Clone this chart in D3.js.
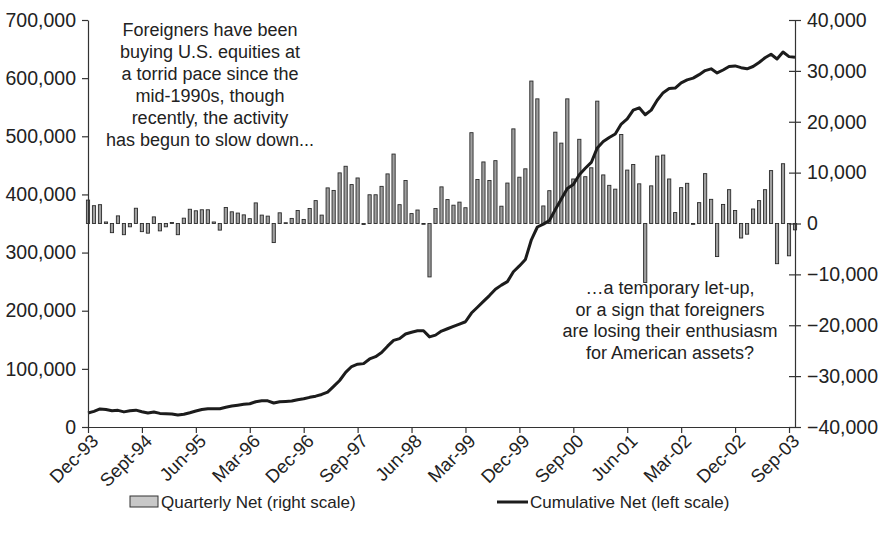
<!DOCTYPE html>
<html>
<head>
<meta charset="utf-8">
<script src="https://cdn.jsdelivr.net/npm/d3@7"></script>
<style>
    body { margin: 0; background: #fff; }
    text { font-family: "Liberation Sans", Arial, sans-serif; fill: #222; }
</style>
</head>
<body>
<div id="chart"></div>
<script>

// monthly data, Dec-93 .. Oct-03 ($ millions)
const firstMonth = new Date(1993, 11, 1);

const quarterlyNet = [
    4600, 3500, 3700, 300, -1800, 1500, -2200, -650, 3000, -1600,
    -1900, 1300, -1450, -650, 200, -2200, 1050, 2800, 2500, 2700,
    2700, 300, -1300, 3150, 2300, 2050, 1700, 950, 4050, 1650,
    1450, -3750, 2100, 150, 1000, 2550, 800, 2950, 4500, 1650,
    7000, 6500, 9950, 11250, 7650, 8950, -200, 5650, 5650, 7300,
    9750, 13650, 3700, 8450, 1950, 2650, 0, -10500, 2950, 7200,
    4700, 3600, 4200, 3100, 17850, 8650, 12100, 8450, 12350, 3400,
    7950, 18600, 9100, 10750, 28000, 24500, 3450, 6450, 17950, 15800,
    24500, 8750, 16550, 9200, 10950, 24050, 9550, 7500, 6750, 17500,
    10500, 11600, 7800, -11600, 7400, 13250, 13450, 8750, 2150, 7050,
    7900, -150, 4100, 9800, 4750, -6500, 3750, 6650, 2550, -2850,
    -2100, 2850, 4500, 6650, 10400, -7900, 11750, -6350, -1250
];

const cumulativeNet = [
    24000, 26800, 31000, 30000, 28000, 28600, 26000, 28000, 29000, 26300,
    24000, 25800, 23400, 22900, 22400, 20600, 22000, 24600, 27500, 30000,
    31500, 31500, 31500, 34000, 36000, 37500, 39000, 40000, 43500, 45000,
    45000, 41300, 43500, 44000, 44700, 47000, 48500, 51000, 53000, 56000,
    60000, 70000, 80000, 94000, 104000, 108000, 109000, 117000, 121000, 128000,
    139000, 149000, 152000, 160000, 163000, 165600, 165600, 155000, 158000, 165000,
    169000, 173000, 177000, 181000, 196000, 206000, 216000, 226000, 237000, 244000,
    250000, 267000, 277000, 288000, 322000, 344000, 349000, 355000, 374000, 392000,
    410000, 417000, 434000, 445000, 455000, 480000, 491000, 498000, 504000, 521000,
    530000, 545000, 549000, 537000, 545000, 562000, 575000, 582000, 583000, 592000,
    597000, 600000, 606000, 613000, 616000, 609000, 614000, 620000, 621000, 618000,
    616000, 620000, 627000, 635000, 641000, 633000, 645000, 637000, 636000
];

const tickLabels = ["Dec-93", "Sept-94", "Jun-95", "Mar-96", "Dec-96", "Sep-97", "Jun-98",
    "Mar-99", "Dec-99", "Sep-00", "Jun-01", "Mar-02", "Dec-02", "Sep-03"];
const tickEvery = 9;

const leftTicks = [0, 100000, 200000, 300000, 400000, 500000, 600000, 700000];
const rightTicks = [-40000, -30000, -20000, -10000, 0, 10000, 20000, 30000, 40000];

const noteTop = ["Foreigners have been", "buying U.S. equities at", "a torrid pace since the",
    "mid-1990s, though", "recently, the activity", "has begun to slow down..."];
const noteBottom = ["\u2026a temporary let-up,", "or a sign that foreigners",
    "are losing their enthusiasm", "for American assets?"];

const legendItems = ["Quarterly Net (right scale)", "Cumulative Net (left scale)"];


class DualAxisVis {

    constructor(parentElement) {
        this.parentElement = parentElement;
        this.months = d3.timeMonth.range(firstMonth, d3.timeMonth.offset(firstMonth, quarterlyNet.length));
        this.initVis();
    }

    initVis() {
        let vis = this;

        vis.width = 881;
        vis.height = 547;
        vis.plot = { left: 88, right: 795, top: 20, bottom: 427 };

        vis.svg = d3.select("#" + vis.parentElement).append("svg")
            .attr("width", vis.width)
            .attr("height", vis.height);

        // scales
        vis.x = d3.scaleLinear()
            .domain([0, vis.months.length - 1])
            .range([vis.plot.left, vis.plot.right]);

        vis.yLeft = d3.scaleLinear()
            .domain([0, 700000])
            .range([vis.plot.bottom, vis.plot.top]);

        vis.yRight = d3.scaleLinear()
            .domain([-40000, 40000])
            .range([vis.plot.bottom, vis.plot.top]);

        vis.updateVis();
    }

    updateVis() {
        let vis = this;
        const data = vis.months.map((m, i) => ({ i: i, month: m, q: quarterlyNet[i], c: cumulativeNet[i] }));

        // bars
        const barW = 3.2;
        vis.svg.append("g").attr("class", "bars")
            .selectAll("rect")
            .data(data)
            .enter().append("rect")
            .attr("x", d => vis.x(d.i) - barW / 2)
            .attr("y", d => Math.min(vis.yRight(d.q), vis.yRight(0)))
            .attr("width", barW)
            .attr("height", d => Math.max(0.8, Math.abs(vis.yRight(d.q) - vis.yRight(0))))
            .attr("fill", "#a0a0a0")
            .attr("stroke", "#2a2a2a")
            .attr("stroke-width", 0.9);

        // cumulative line
        const line = d3.line()
            .x(d => vis.x(d.i))
            .y(d => vis.yLeft(d.c));

        vis.svg.append("path")
            .datum(data)
            .attr("fill", "none")
            .attr("stroke", "#1c1c1c")
            .attr("stroke-width", 3)
            .attr("stroke-linejoin", "round")
            .attr("d", line);

        // left axis
        const leftAxis = vis.svg.append("g")
            .attr("transform", `translate(${vis.plot.left},0)`)
            .call(d3.axisLeft(vis.yLeft).tickValues(leftTicks).tickFormat(d3.format(",")).tickSize(6).tickSizeOuter(0).tickPadding(6));

        // right axis, ticks cross the line
        const rightAxis = vis.svg.append("g")
            .attr("transform", `translate(${vis.plot.right},0)`)
            .call(d3.axisRight(vis.yRight).tickValues(rightTicks).tickFormat(d3.format(",")).tickSize(6).tickSizeOuter(0).tickPadding(6));
        rightAxis.selectAll(".tick line").attr("x1", -6);

        // bottom axis
        const bottomAxis = vis.svg.append("g")
            .attr("transform", `translate(0,${vis.plot.bottom})`)
            .call(d3.axisBottom(vis.x)
                .tickValues(tickLabels.map((t, k) => k * tickEvery))
                .tickFormat((d, k) => tickLabels[k])
                .tickSize(6).tickSizeOuter(0));

        [leftAxis, rightAxis, bottomAxis].forEach(g => {
            g.select(".domain").attr("stroke", "#333").attr("stroke-width", 1.2);
            g.selectAll(".tick line").attr("stroke", "#333").attr("stroke-width", 1.2);
            g.selectAll("text").attr("font-size", 19.5).attr("fill", "#222")
                .attr("font-family", "'Liberation Sans', Arial, sans-serif");
        });

        bottomAxis.selectAll("text")
            .attr("font-size", 18.5)
            .attr("text-anchor", "end")
            .attr("x", -3)
            .attr("y", 12)
            .attr("dy", "0.35em")
            .attr("transform", "rotate(-45)");

        // annotations
        vis.svg.append("g").selectAll("text")
            .data(noteTop)
            .enter().append("text")
            .attr("x", 210)
            .attr("y", (d, k) => 30 + k * 22)
            .attr("dy", "0.35em")
            .attr("text-anchor", "middle")
            .attr("font-size", 18)
            .text(d => d);

        vis.svg.append("g").selectAll("text")
            .data(noteBottom)
            .enter().append("text")
            .attr("x", 670)
            .attr("y", (d, k) => 288 + k * 21.5)
            .attr("dy", "0.35em")
            .attr("text-anchor", "middle")
            .attr("font-size", 18)
            .text(d => d);

        // legend
        const legend = vis.svg.append("g").attr("class", "legend");
        legend.append("rect")
            .attr("x", 130).attr("y", 496)
            .attr("width", 28).attr("height", 11)
            .attr("fill", "#c8c8c8").attr("stroke", "#333").attr("stroke-width", 1);
        legend.append("text")
            .attr("x", 161).attr("y", 502).attr("dy", "0.35em")
            .attr("font-size", 17)
            .text(legendItems[0]);
        legend.append("line")
            .attr("x1", 497).attr("x2", 528)
            .attr("y1", 502).attr("y2", 502)
            .attr("stroke", "#1c1c1c").attr("stroke-width", 3);
        legend.append("text")
            .attr("x", 530).attr("y", 502).attr("dy", "0.35em")
            .attr("font-size", 17)
            .text(legendItems[1]);
    }
}

new DualAxisVis("chart");
</script>
</body>
</html>
